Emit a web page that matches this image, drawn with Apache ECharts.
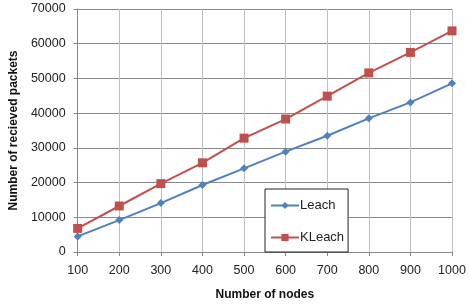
<!DOCTYPE html>
<html>
<head>
<meta charset="utf-8">
<script src="https://cdn.jsdelivr.net/npm/echarts@6/dist/echarts.min.js"></script>
<style>html,body{margin:0;padding:0;background:#fff;}#c{width:470px;height:306px;}</style>
</head>
<body>
<div id="c"></div>
<script>
var categories = ['100','200','300','400','500','600','700','800','900','1000'];
var leach = [4500, 9200, 14100, 19300, 24100, 28900, 33500, 38500, 43100, 48600];
var kleach = [6800, 13250, 19700, 25700, 32800, 38300, 44900, 51600, 57500, 63700];
var seriesNames = ['Leach', 'KLeach'];
var xTitle = 'Number of nodes';
var yTitle = 'Number of recieved packets';

var font = '"Liberation Sans", Arial, sans-serif';
var chart = echarts.init(document.getElementById('c'), null, {renderer: 'canvas'});
chart.setOption({
  animation: false,
  backgroundColor: '#fff',
  grid: {left: 65, right: 18, top: 9, bottom: 54, containLabel: false},
  legend: {
    orient: 'vertical',
    left: 265, top: 189,
    padding: [10, 4, 8, 5],
    itemGap: 19,
    itemWidth: 28, itemHeight: 9,
    backgroundColor: '#fff',
    borderColor: '#222',
    borderWidth: 1,
    textStyle: {fontFamily: font, fontSize: 13, color: '#222', padding: [0,0,0,-4]},
    data: seriesNames
  },
  xAxis: {
    type: 'category',
    data: categories,
    boundaryGap: false,
    name: xTitle,
    nameLocation: 'middle',
    nameGap: 37,
    nameTextStyle: {fontFamily: font, fontSize: 12, fontWeight: 'bold', color: '#111'},
    axisLine: {lineStyle: {color: '#888'}},
    axisTick: {show: true, length: 4, lineStyle: {color: '#888'}},
    axisLabel: {fontFamily: font, fontSize: 12.5, color: '#222', margin: 12},
    splitLine: {show: true, lineStyle: {color: '#c0c0c0', width: 1}}
  },
  yAxis: {
    type: 'value',
    min: 0, max: 70000, interval: 10000,
    name: yTitle,
    nameLocation: 'middle',
    nameGap: 52,
    nameTextStyle: {fontFamily: font, fontSize: 12, fontWeight: 'bold', color: '#111'},
    axisLine: {show: true, lineStyle: {color: '#888'}},
    axisTick: {show: true, length: 4, lineStyle: {color: '#888'}},
    axisLabel: {fontFamily: font, fontSize: 12.5, color: '#222', margin: 12,
      formatter: function (v) { return String(v); }},
    splitLine: {show: true, lineStyle: {color: '#8a8a8a', width: 1}}
  },
  series: [
    {
      name: seriesNames[0], type: 'line', data: leach,
      symbol: 'diamond', symbolSize: 8,
      lineStyle: {color: '#4F81BD', width: 2},
      itemStyle: {color: '#4F81BD'}
    },
    {
      name: seriesNames[1], type: 'line', data: kleach,
      symbol: 'rect', symbolSize: 9,
      lineStyle: {color: '#C0504D', width: 2},
      itemStyle: {color: '#C0504D'}
    }
  ]
});
</script>
</body>
</html>
